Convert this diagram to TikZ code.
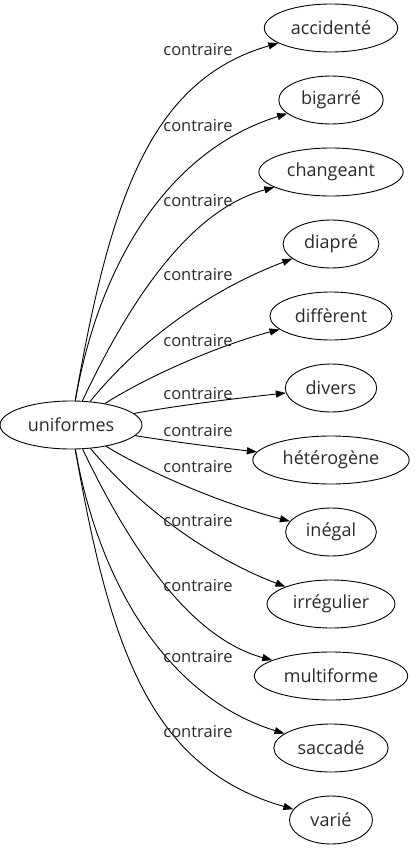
\documentclass[tikz,border=0pt]{standalone}
\usepackage{fontspec}
\setmainfont{Open Sans}
\definecolor{grafoTexto}{HTML}{2A2A2A}
\usetikzlibrary{
	arrows.meta,
	shapes.geometric
}

\begin{document}
\begin{tikzpicture}[x=1pt, y=-1pt,
		palabra/.style={ellipse, draw, line width=0.9pt, text=grafoTexto,
			font=\fontsize{18}{21}\selectfont, inner xsep=7pt, inner ysep=2pt,
			minimum height=48pt, minimum width=83pt},
		relacion/.style={text=grafoTexto, font=\fontsize{16.5}{19}\selectfont, inner sep=0pt},
		enlace/.style={-{Triangle[length=10pt, width=7pt]}, line width=0.9pt}]
		
		\useasboundingbox (0,0) rectangle (415,851);
		
		% Palabra central
		\node[palabra] (uniformes) at (71,425) {uniformes};
		
		% Contraires
		\foreach \nom/\lab/\y in {accidente/accidenté/28, bigarre/bigarré/100,
			changeant/changeant/172, diapre/diapré/244, different/diffèrent/316,
			divers/divers/388, heterogene/hétérogène/460, inegal/inégal/532,
			irregulier/irrégulier/604, multiforme/multiforme/676,
			saccade/saccadé/748, varie/varié/820}{
			\node[palabra] (\nom) at (331,\y) {\lab};
		}
		
		% Aristas y etiquetas
		\foreach \nom/\ax/\ay/\bx/\by/\ly in {accidente/110/200/150/80/50,
			bigarre/100/260/170/150/126, changeant/130/300/190/210/201,
			diapre/140/340/210/290/275, different/150/375/220/345/341,
			divers/180/405/240/398/394, heterogene/180/443/240/450/431,
			inegal/150/473/220/503/467, irregulier/140/508/210/558/521,
			multiforme/130/548/190/638/586, saccade/100/588/170/698/657,
			varie/110/648/150/768/732}{
			\draw[enlace] (uniformes) .. controls (\ax,\ay) and (\bx,\by) .. (\nom);
			\node[relacion] (c\nom) at (198,\ly) {contraire};
		}
		
	\end{tikzpicture}
\end{document}
